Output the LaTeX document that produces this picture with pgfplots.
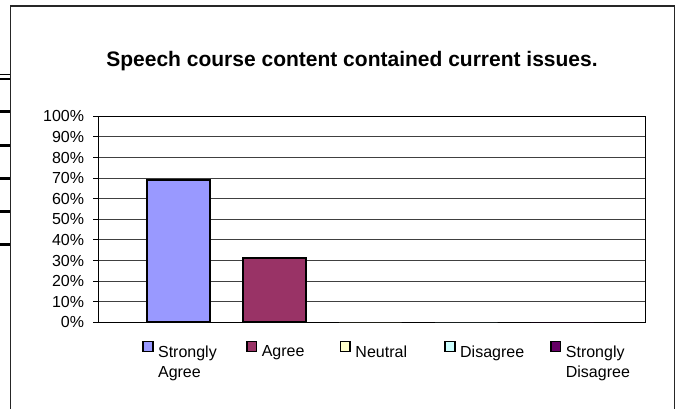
\documentclass[border=0pt]{standalone}
\usepackage{pgfplots}
\pgfplotsset{compat=1.18}
\usepackage{fontspec}
\setmainfont{Liberation Sans}
\definecolor{csa}{HTML}{9999FF}
\definecolor{ca}{HTML}{993366}
\definecolor{cn}{HTML}{FFFFCC}
\definecolor{cd}{HTML}{CCFFFF}
\definecolor{csd}{HTML}{660066}
\begin{document}
\begin{tikzpicture}[x=1pt,y=1pt]
\useasboundingbox (0,0) rectangle (677,408);
\draw[line width=1.2pt, black!85] (10.3,-5) -- (10.3,402) -- (674.3,402) -- (674.3,-5);
\foreach \yy/\lw in {74.3/1.1, 79/2.2, 111.7/2.5, 145.7/2.5, 178.3/2.5, 211.7/2.5, 244.3/2.5}
  \draw[line width=\lw pt] (0,408-\yy) -- (10.3,408-\yy);
\begin{axis}[
  at={(98.3pt,85.7pt)}, anchor=south west,
  scale only axis, width=547.4pt, height=206pt,
  xmin=-0.8333, xmax=4.869, ymin=0, ymax=100,
  ybar, bar width=62.5pt,
  xtick=\empty,
  ytick={0,10,...,100},
  ytick pos=left,
  yticklabels={0\%,10\%,20\%,30\%,40\%,50\%,60\%,70\%,80\%,90\%,100\%},
  tick align=outside, major tick length=5pt,
  ymajorgrids, grid style={line width=0.9pt, black!75},
  axis line style={line width=1.1pt},
  tick style={line width=0.9pt, black},
  yticklabel style={font=\fontsize{16}{19}\selectfont, inner sep=0pt, xshift=-9pt},
  title={Speech course content contained current issues.},
  title style={at={(0.4635,1.215)}, anchor=base, font=\bfseries\fontsize{21}{25}\selectfont, inner sep=0pt},
  every axis plot post/.append style={legend image code/.code={\draw[##1, draw=black, line width=1.7pt] (0pt,0.6pt) rectangle (9.6pt,10.8pt);}},
  legend columns=5,
  legend style={draw=none, fill=none, at={(0.0800,-0.0874)}, anchor=north west, inner sep=0pt,
    /tikz/column sep=4.5pt,
    nodes={inner sep=0pt, text width=83pt, align=left, font=\fontsize{16}{20}\selectfont}},
]
\addplot[bar shift=0pt, fill=csa, draw=black, line width=2pt] coordinates {(0,69)};
\addlegendentry[text width=83.4pt]{Strongly\\Agree}
\addplot[bar shift=0pt, fill=ca, draw=black, line width=2pt] coordinates {(1,31)};
\addlegendentry[text width=73.4pt]{Agree}
\addplot[bar shift=0pt, fill=cn, draw=none] coordinates {(2,0)};
\addlegendentry[text width=84.4pt]{Neutral}
\addplot[bar shift=0pt, fill=cd, draw=none] coordinates {(3,0)};
\addlegendentry[text width=85.4pt]{Disagree}
\addplot[bar shift=0pt, fill=csd, draw=none] coordinates {(4,0)};
\addlegendentry[text width=83pt]{Strongly\\Disagree}
\end{axis}
\end{tikzpicture}
\end{document}
